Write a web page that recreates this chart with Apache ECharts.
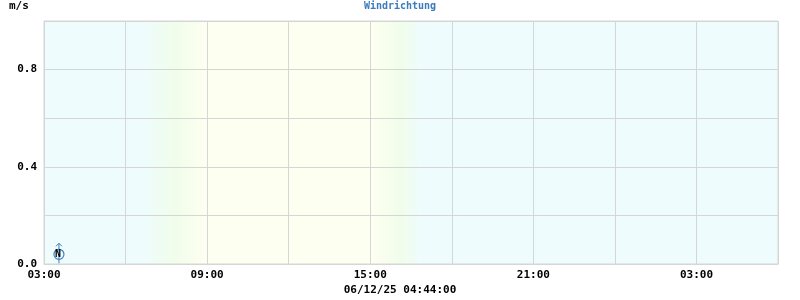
<!DOCTYPE html>
<html><head><meta charset="utf-8">
<script src="https://cdn.jsdelivr.net/npm/echarts@6/dist/echarts.min.js"></script>
<style>html,body{margin:0;padding:0;background:#fff}#c{width:800px;height:300px}</style>
</head><body><div id="c"></div>
<script>
// hours since 00:00 of 06/12/25 (axis runs 03:00 .. 06:00 next day)
const axisStart = 3, axisEnd = 30;
const tickLabels = ['03:00','09:00','15:00','21:00','03:00'];
const windTimes = [3.55];
const windSpeeds = [0.04];
const windDirDeg = [0];
const windDirText = ['N'];
// dawn / dusk transitions (hours)
const dawnStart = 6.6, dawnEnd = 8.9, duskStart = 15.1, duskEnd = 16.9;

const NIGHT = '#eefcfe', DAY = '#fdfff0', MID = '#f1fdea';
const grad = (a, b) => ({type:'linear', x:0, y:0, x2:1, y2:0, colorStops:[{offset:0,color:a},{offset:0.55,color:MID},{offset:1,color:b}]});
const FONT = '"DejaVu Sans Mono", monospace';

const chart = echarts.init(document.getElementById('c'), null, {renderer:'canvas'});
chart.setOption({
  animation:false,
  grid:{left:44, right:22, top:21, bottom:36, show:true, z:3, borderColor:'#d6d6d6', borderWidth:1, backgroundColor:'transparent'},
  xAxis:{type:'value', min:axisStart, max:axisEnd, interval:3, z:3,
    axisLine:{show:true, lineStyle:{color:'#d6d6d6'}}, axisTick:{show:false},
    splitLine:{show:true, lineStyle:{color:'#d6d6d6', width:1}},
    axisLabel:{margin:6, color:'#000', fontFamily:FONT, fontWeight:'bold', fontSize:11,
      formatter:v => { const i = (v-axisStart)/6; return Number.isInteger(i) ? tickLabels[i] : ''; }}},
  yAxis:{type:'value', min:0, max:1, interval:0.2, z:3,
    axisLine:{show:true, lineStyle:{color:'#d6d6d6'}}, axisTick:{show:false},
    splitLine:{show:true, lineStyle:{color:'#d6d6d6', width:1}},
    axisLabel:{margin:7, color:'#000', fontFamily:FONT, fontWeight:'bold', fontSize:11,
      showMaxLabel:false, verticalAlign:'middle', padding:[6,0,0,0],
      formatter:v => (Math.round(v*10) % 4 === 0 && v < 0.95) ? v.toFixed(1) : ''}},
  graphic:[
    {type:'text', left:9, top:1, style:{text:'m/s', font:'bold 11px '+FONT, fill:'#000'}},
    {type:'text', left:'center', top:1, style:{text:'Windrichtung', font:'bold 10px '+FONT, fill:'#3b7bbd'}},
    {type:'text', left:'center', top:285, style:{text:'06/12/25 04:44:00', font:'bold 11px '+FONT, fill:'#000'}}
  ],
  series:[
    {type:'line', data:[], z:0, silent:true,
      markArea:{silent:true, z:0, data:[
        [{xAxis:axisStart, itemStyle:{color:NIGHT}}, {xAxis:dawnStart}],
        [{xAxis:dawnStart, itemStyle:{color:grad(NIGHT, DAY)}}, {xAxis:dawnEnd}],
        [{xAxis:dawnEnd, itemStyle:{color:DAY}}, {xAxis:duskStart}],
        [{xAxis:duskStart, itemStyle:{color:grad(DAY, NIGHT)}}, {xAxis:duskEnd}],
        [{xAxis:duskEnd, itemStyle:{color:NIGHT}}, {xAxis:axisEnd}]
      ]}},
    {type:'custom', z:5,
      data: windTimes.map((t,i)=>[t, windSpeeds[i], windDirDeg[i], i]),
      renderItem:(params, api) => {
        const p = api.coord([api.value(0), api.value(1)]);
        const rot = -api.value(2) * Math.PI/180;
        const blue = '#3f7fbf';
        return {type:'group', x:p[0], y:p[1], children:[
          {type:'group', rotation:rot, children:[
            {type:'line', shape:{x1:0, y1:-11, x2:0, y2:9}, style:{stroke:blue, lineWidth:1}},
            {type:'polyline', shape:{points:[[-3,-8],[0,-11],[3,-8]]}, style:{stroke:blue, fill:null, lineWidth:1}},
            {type:'circle', shape:{cx:0, cy:0, r:5}, style:{stroke:blue, fill:'rgba(0,0,0,0)', lineWidth:1.2}}
          ]},
          {type:'text', x:-1, y:0, style:{text:windDirText[api.value(3)], font:'bold 10px '+FONT, fill:'#000', align:'center', verticalAlign:'middle'}}
        ]};
      }}
  ]
});
</script></body></html>
